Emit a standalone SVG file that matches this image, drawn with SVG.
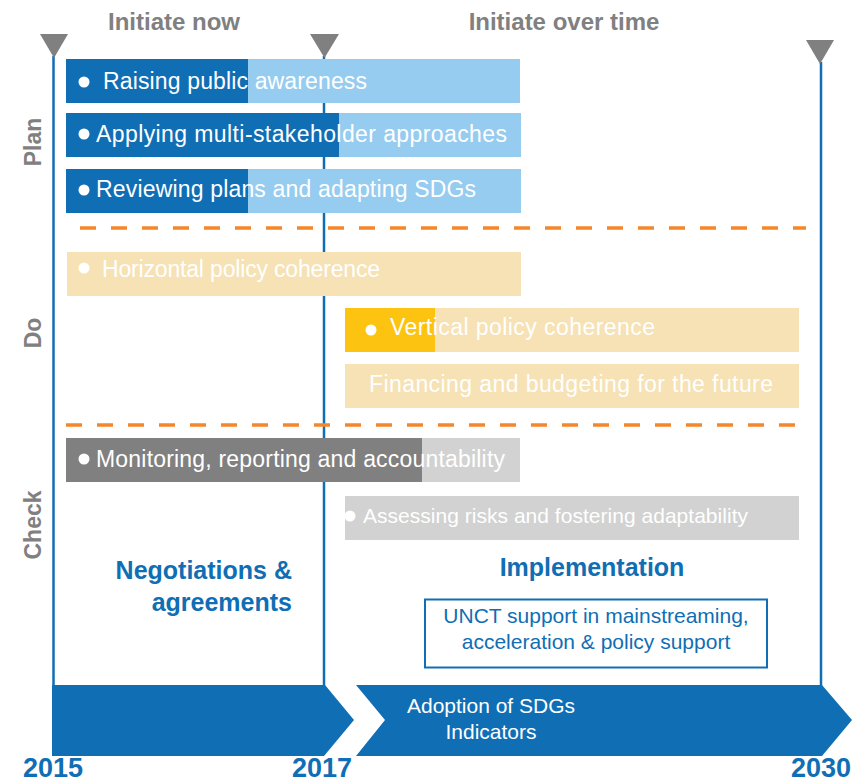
<svg xmlns="http://www.w3.org/2000/svg" width="861" height="783" viewBox="0 0 861 783">
<style>
text{font-family:"Liberation Sans",Arial,sans-serif}
.hdr{font-size:24px;font-weight:bold;fill:#808080;text-anchor:middle}
.side{font-size:23px;font-weight:bold;fill:#808080;text-anchor:middle}
.bt{font-size:23px;fill:#fff}
.dot{fill:#fff}
.dk{fill:#106EB4}
.lb{fill:#96CCEF}
.wh{fill:#F6E2B5}
.ye{fill:#FDC311}
.gd{fill:#808080}
.gl{fill:#D1D2D1}
.tl{stroke:#106EB4;stroke-width:2.5;fill:none}
.sep{stroke:#F5862A;stroke-width:3.5;stroke-dasharray:16 15;fill:none}
.tri{fill:#808080}
.big{font-size:25px;font-weight:bold;fill:#106EB4}
.yr{font-size:27px;font-weight:bold;fill:#106EB4;text-anchor:middle}
.bl{font-size:21px;fill:#106EB4;text-anchor:middle}
.wt{font-size:21px;fill:#fff;text-anchor:middle}
</style>

<g id="connectors">
<line class="tl" x1="53.5" y1="56" x2="53.5" y2="686"/>
<line class="tl" x1="324" y1="56" x2="324" y2="686"/>
<line class="tl" x1="821" y1="62" x2="821" y2="686"/>
<polygon class="tri" points="40,34 68,34 54,58"/>
<polygon class="tri" points="310,34 339,34 324.5,58"/>
<polygon class="tri" points="806,40 834,40 820,64"/>
</g>

<g id="headers">
<text class="hdr" x="174" y="30">Initiate now</text>
<text class="hdr" x="564" y="30">Initiate over time</text>
</g>

<g id="phase-labels">
<text class="side" transform="translate(41,142) rotate(-90)">Plan</text>
<text class="side" transform="translate(41,333) rotate(-90)">Do</text>
<text class="side" transform="translate(41,525) rotate(-90)">Check</text>
</g>

<g id="bar-raising">
<rect class="lb" x="66" y="59" width="454" height="44"/>
<rect class="dk" x="66" y="59" width="182" height="44"/>
<circle class="dot" cx="84" cy="82" r="5.5"/>
<text class="bt" x="103" y="89" textLength="264" lengthAdjust="spacing">Raising public awareness</text>
</g>

<g id="bar-applying">
<rect class="lb" x="66" y="113" width="455" height="44"/>
<rect class="dk" x="66" y="113" width="273" height="44"/>
<circle class="dot" cx="84" cy="134" r="5.5"/>
<text class="bt" x="96" y="142" textLength="411" lengthAdjust="spacing">Applying multi-stakeholder approaches</text>
</g>

<g id="bar-reviewing">
<rect class="lb" x="66" y="169" width="455" height="44"/>
<rect class="dk" x="66" y="169" width="182" height="44"/>
<circle class="dot" cx="84" cy="190" r="5.5"/>
<text class="bt" x="96" y="197" textLength="380" lengthAdjust="spacing">Reviewing plans and adapting SDGs</text>
</g>

<g id="separators">
<line class="sep" x1="80" y1="228" x2="806" y2="228"/>
<line class="sep" x1="66" y1="425" x2="806" y2="425"/>
</g>

<g id="bar-horizontal">
<rect class="wh" x="67" y="252" width="454" height="44"/>
<circle class="dot" cx="84" cy="268" r="5.5"/>
<text class="bt" x="102" y="277" textLength="278" lengthAdjust="spacing">Horizontal policy coherence</text>
</g>

<g id="bar-vertical">
<rect class="wh" x="345" y="308" width="454" height="44"/>
<rect class="ye" x="345" y="308" width="90" height="44"/>
<circle class="dot" cx="371" cy="330" r="5.5"/>
<text class="bt" x="390" y="335" textLength="265" lengthAdjust="spacing">Vertical policy coherence</text>
</g>

<g id="bar-financing">
<rect class="wh" x="345" y="364" width="454" height="44"/>
<text class="bt" x="369" y="392" textLength="404" lengthAdjust="spacing">Financing and budgeting for the future</text>
</g>

<g id="bar-monitoring">
<rect class="gl" x="66" y="438" width="454" height="44"/>
<rect class="gd" x="66" y="438" width="356" height="44"/>
<circle class="dot" cx="84" cy="459" r="5.5"/>
<text class="bt" x="96" y="467" textLength="409" lengthAdjust="spacing">Monitoring, reporting and accountability</text>
</g>

<g id="bar-assessing">
<rect class="gl" x="345" y="496" width="454" height="44"/>
<circle class="dot" cx="350" cy="516" r="5.5"/>
<text class="bt" x="363" y="523" style="font-size:21px" textLength="385" lengthAdjust="spacing">Assessing risks and fostering adaptability</text>
</g>

<g id="negotiations">
<text class="big" x="292" y="579" text-anchor="end">Negotiations &amp;</text>
<text class="big" x="292" y="611" text-anchor="end">agreements</text>
</g>

<g id="implementation">
<text class="big" x="592" y="576" text-anchor="middle">Implementation</text>
</g>

<g id="unct-box">
<rect x="425" y="599.5" width="342" height="68" fill="#fff" stroke="#106EB4" stroke-width="2"/>
<text class="bl" x="596" y="623">UNCT support in mainstreaming,</text>
<text class="bl" x="596" y="649">acceleration &amp; policy support</text>
</g>

<g id="arrow-2015-2017">
<polygon class="dk" points="52,685 325,685 354,720 324,756 52,756"/>
</g>

<g id="arrow-2017-2030">
<polygon class="dk" points="356,685 822,685 852,720 822,756 356,756 385,720"/>
<text class="wt" x="491" y="713">Adoption of SDGs</text>
<text class="wt" x="491" y="739">Indicators</text>
</g>

<g id="years">
<text class="yr" x="53" y="777">2015</text>
<text class="yr" x="322" y="777">2017</text>
<text class="yr" x="821" y="777">2030</text>
</g>
</svg>
